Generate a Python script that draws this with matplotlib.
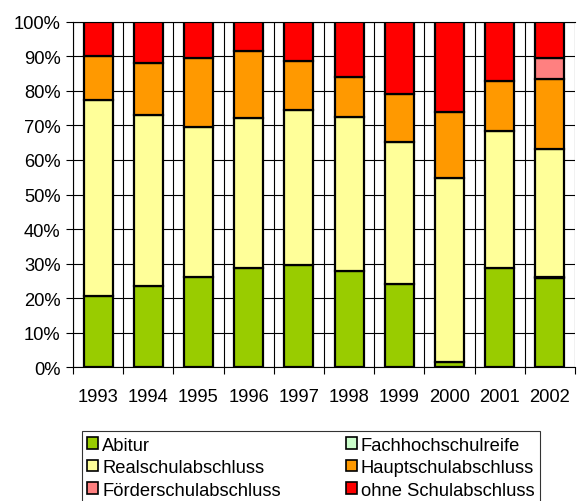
import numpy as np
import matplotlib
matplotlib.use("Agg")
import matplotlib.pyplot as plt
from matplotlib.patches import Patch

plt.rcParams['font.family'] = ['Liberation Sans', 'DejaVu Sans']

years = ['1993', '1994', '1995', '1996', '1997', '1998', '1999', '2000', '2001', '2002']

# shares in percent, bottom to top
abitur = [20.8, 23.6, 26.2, 28.8, 29.7, 27.8, 24.2, 1.5, 28.7, 25.8]
fachhochschulreife = [0, 0, 0, 0, 0, 0, 0, 0, 0, 0.5]
realschule = [56.5, 49.4, 43.2, 43.2, 44.8, 44.7, 40.9, 53.2, 39.7, 36.9]
hauptschule = [12.8, 15.0, 20.0, 19.6, 14.0, 11.5, 14.1, 19.2, 14.5, 20.1]
foerderschule = [0, 0, 0, 0, 0, 0, 0, 0, 0, 6.1]
ohne = [9.9, 12.0, 10.6, 8.4, 11.5, 16.0, 20.8, 26.1, 17.1, 10.6]

series = [
    ('Abitur', abitur, '#99CC00'),
    ('Fachhochschulreife', fachhochschulreife, '#CCFFCC'),
    ('Realschulabschluss', realschule, '#FFFF99'),
    ('Hauptschulabschluss', hauptschule, '#FF9900'),
    ('Förderschulabschluss', foerderschule, '#FF8080'),
    ('ohne Schulabschluss', ohne, '#FF0000'),
]

FS = 13.2

fig = plt.figure(figsize=(5.77, 5.02), dpi=100)
ax = fig.add_axes([0.1265, 0.266, 0.870, 0.689])

x = np.arange(len(years))
bottom = np.zeros(len(years))
handles = {}
for name, vals, col in series:
    vals = np.array(vals, dtype=float)
    mask = vals > 0
    ax.bar(x[mask], vals[mask], width=0.58, bottom=bottom[mask], color=col,
           edgecolor='black', linewidth=1.6, zorder=3)
    handles[name] = Patch(facecolor=col, edgecolor='black', linewidth=1.2)
    bottom += vals

ax.set_xlim(-0.5, len(years) - 0.5)
ax.set_ylim(0, 100)

# horizontal grid at every 10 %, vertical grid at category boundaries
ax.set_yticks(np.arange(0, 101, 10))
ax.set_yticklabels(['%d%%' % v for v in range(0, 101, 10)], fontsize=FS)
ax.set_xticks(np.arange(-0.5, len(years), 1.0))
ax.set_xticklabels([])
ax.set_xticks(x, minor=True)
ax.set_xticklabels(years, minor=True, fontsize=FS)
ax.tick_params(axis='x', which='minor', length=0, pad=15)
ax.tick_params(axis='x', which='major', length=5, width=0.8, direction='out')
ax.tick_params(axis='y', length=5, width=0.8, direction='out', pad=4)
ax.grid(True, which='major', color='black', linewidth=0.8, zorder=0)
ax.set_axisbelow(True)
for s in ax.spines.values():
    s.set_linewidth(0.8)
    s.set_color('black')
ax.spines['right'].set_visible(False)

order = ['Abitur', 'Realschulabschluss', 'Förderschulabschluss',
         'Fachhochschulreife', 'Hauptschulabschluss', 'ohne Schulabschluss']
leg = fig.legend([handles[n] for n in order], order, ncol=2,
                 loc='lower left', bbox_to_anchor=(0.142, -0.006, 0.794, 0.13),
                 mode='expand', fontsize=FS, frameon=True, fancybox=False,
                 handlelength=0.6, handleheight=0.6, handletextpad=0.2,
                 borderaxespad=0, labelspacing=0.3, borderpad=0.3)
leg.get_frame().set_edgecolor('black')
leg.get_frame().set_linewidth(0.8)

fig.savefig('out.png', dpi=100)
